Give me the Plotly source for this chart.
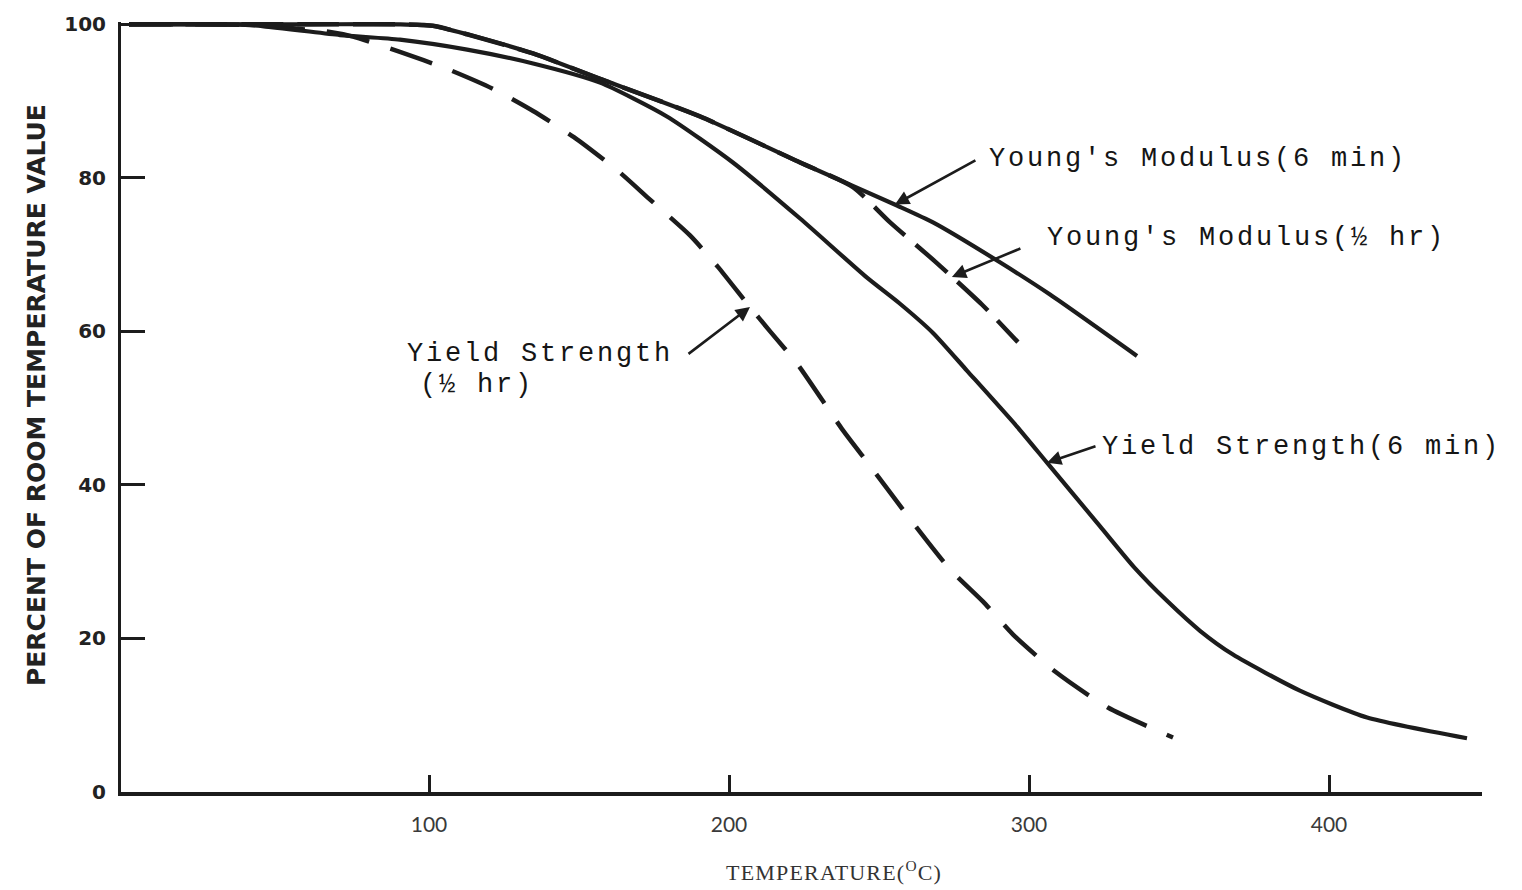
import numpy as np
import plotly.graph_objects as go

# Young's modulus after 6 min at temperature (percent of room-temperature value)
ym6_temp = [0, 60, 90, 101.3, 112.7, 134.7, 157, 190.3, 223.7, 256, 268, 290.3, 307, 336]
ym6_pct = [100, 100, 100, 99.8, 98.7, 96.2, 92.9, 88.0, 82.0, 76.4, 74.2, 69.0, 64.8, 56.8]

# Young's modulus after 1/2 hr (coincides with the 6 min curve below ~240 C)
ym12_temp = [0, 60, 90, 101.3, 112.7, 134.7, 157, 190.3, 223.7, 241.3, 253.7, 269.3, 284.3, 296.3]
ym12_pct = [100, 100, 100, 99.8, 98.7, 96.2, 92.9, 88.0, 82.0, 78.8, 74.2, 68.9, 63.5, 58.6]

# Yield strength after 6 min
ys6_temp = [0, 40.3, 70.3, 90.3, 112.7, 134.7, 157, 179.3, 201.3, 223.7, 246, 257, 268, 279.3,
            296, 306, 323.7, 335, 346, 357, 368, 390.3, 412.7, 446]
ys6_pct = [100, 99.9, 98.6, 98.0, 96.7, 94.9, 92.4, 88.0, 82.0, 74.7, 67.0, 63.6, 59.8, 54.9,
           47.6, 42.9, 34.6, 29.3, 24.9, 21.0, 17.9, 13.2, 9.7, 7.0]

# Yield strength after 1/2 hr
ys12_temp = [0, 40, 67, 74.7, 90.3, 106, 121.3, 134.7, 148.3, 163, 173, 187, 196.3, 206.3,
             213.7, 222.7, 238, 247, 259.3, 273.7, 284.7, 294.7, 308.7, 326.3, 348]
ys12_pct = [100, 99.9, 99.0, 98.4, 96.4, 94.2, 91.6, 88.7, 85.3, 80.9, 77.4, 72.5, 68.4, 63.5,
            60.0, 55.8, 47.1, 42.5, 36.1, 29.0, 24.8, 20.5, 15.7, 11.0, 7.1]

x_ticks = [100, 200, 300, 400]
y_ticks = [0, 20, 40, 60, 80, 100]

INK = "#1c1c1c"
TYPE_FONT = dict(family="Liberation Mono", size=27, color="#151515")

fig = go.Figure()

# dashed curves first, solid curves drawn over them where they coincide
fig.add_trace(go.Scatter(x=ys12_temp, y=ys12_pct, mode="lines",
                         line=dict(color=INK, width=4.5, dash="44px,22px", shape="spline", smoothing=0.6)))
fig.add_trace(go.Scatter(x=ym12_temp, y=ym12_pct, mode="lines",
                         line=dict(color=INK, width=4.5, dash="42px,14px", shape="spline", smoothing=0.6)))
fig.add_trace(go.Scatter(x=ys6_temp, y=ys6_pct, mode="lines",
                         line=dict(color=INK, width=4.2, shape="spline", smoothing=0.6)))
fig.add_trace(go.Scatter(x=ym6_temp, y=ym6_pct, mode="lines",
                         line=dict(color=INK, width=4.2, shape="spline", smoothing=0.6)))


def on_curve(t, xs, ys):
    return float(np.interp(t, xs, ys))


def spaced(s, px=2.8):
    return f'<span style="letter-spacing:{px}px">{s}</span>'


# curve labels (typewriter text, left anchored)
labels = [
    ("Young's Modulus(6 min)", 286, 82.5),
    ("Young's Modulus(½ hr)", 305.3, 72.1),
    ("Yield Strength", 92, 57.0),
    ("(½ hr)", 96.3, 53.0),
    ("Yield Strength(6 min)", 323.7, 45.0),
]
annotations = []
for text, x, y in labels:
    annotations.append(dict(text=spaced(text), x=x, y=y, xref="x", yref="y",
                            xanchor="left", yanchor="middle", showarrow=False,
                            font=TYPE_FONT))

# leader arrows from labels to curves (head on curve, tail offset in pixels)
arrows = [
    (255.3, ym6_temp, ym6_pct, 82, -45),
    (274.3, ym12_temp, ym12_pct, 70, -29),
    (207.0, ys12_temp, ys12_pct, -63, 48),
    (306.0, ys6_temp, ys6_pct, 50, -17),
]
for t, xs, ys, ax, ay in arrows:
    annotations.append(dict(text="", x=t, y=on_curve(t, xs, ys), xref="x", yref="y",
                            showarrow=True, ax=ax, ay=ay, arrowhead=2, arrowsize=1.1,
                            arrowwidth=2.6, arrowcolor=INK, standoff=0))

# axis titles
annotations.append(dict(text="<b>PERCENT OF ROOM TEMPERATURE VALUE</b>", xref="paper", yref="paper",
                        x=-0.062, y=0.515, textangle=-90, showarrow=False,
                        xanchor="center", yanchor="middle",
                        font=dict(family="DejaVu Sans", size=25, color="#222222")))
annotations.append(dict(text=spaced("TEMPERATURE(<sup>O</sup>C)", 1.2), xref="x", yref="paper",
                        x=235, y=-0.103, showarrow=False, xanchor="center", yanchor="middle",
                        font=dict(family="Liberation Serif", size=22, color="#333333")))

fig.update_layout(
    width=1522, height=890,
    margin=dict(l=121, r=40, t=15, b=98),
    paper_bgcolor="white", plot_bgcolor="white",
    showlegend=False,
    annotations=annotations,
    xaxis=dict(range=[-8 / 3, 451], tickvals=x_ticks, ticktext=[str(v) for v in x_ticks],
               showgrid=False, zeroline=False, showline=True, linecolor=INK, linewidth=4,
               ticks="inside", ticklen=17, tickwidth=3, tickcolor=INK,
               ticklabelstandoff=11,
               tickfont=dict(family="Lato", size=21, color="#3a3a3a")),
    yaxis=dict(range=[0, 100.3], tickvals=y_ticks, ticktext=[str(v) for v in y_ticks],
               showgrid=False, zeroline=False, showline=True, linecolor=INK, linewidth=3,
               ticks="inside", ticklen=24, tickwidth=3, tickcolor=INK,
               ticklabelstandoff=8,
               tickfont=dict(family="DejaVu Sans", size=20, color="#222222", weight="bold")),
)

fig.write_html("out.html")
